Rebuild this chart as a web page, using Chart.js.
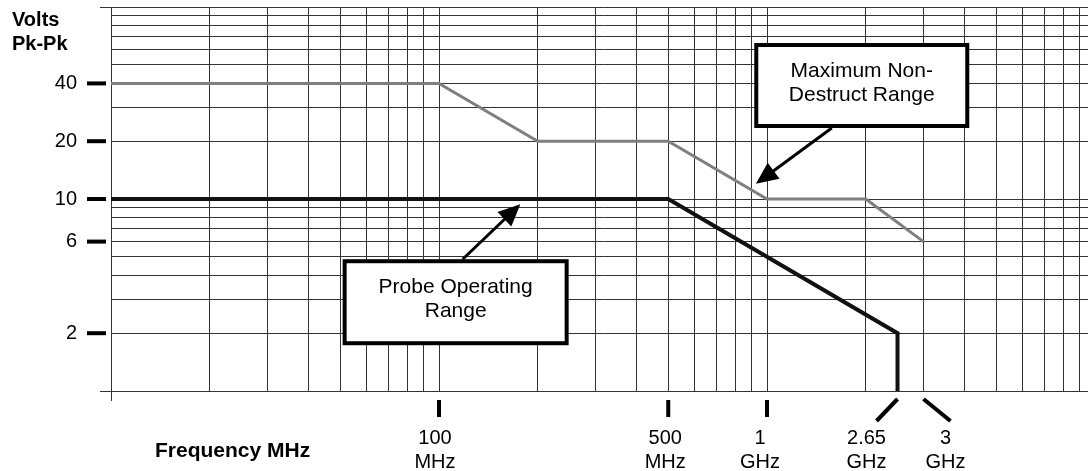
<!DOCTYPE html>
<html>
<head>
<meta charset="utf-8">
<script src="https://cdn.jsdelivr.net/npm/chart.js@4.4.1/dist/chart.umd.min.js"></script>
<style>
  html, body { margin: 0; padding: 0; background: #fff; overflow: hidden; }
  #wrap { width: 1100px; height: 471px; }
</style>
</head>
<body>
<div id="wrap"><canvas id="myChart" width="1100" height="471"></canvas></div>
<script>
// data
const maxFreq = [10, 100, 200, 500, 1000, 2000, 3000];
const maxVolts = [40, 40, 20, 20, 10, 10, 6];
const opFreq = [10, 500, 2500, 2500];
const opVolts = [10, 10, 2, 1];

const xTickValues = [100, 500, 1000, 2500, 3000];
const xTickLabels = [['100', 'MHz'], ['500', 'MHz'], ['1', 'GHz'], ['2.65', 'GHz'], ['3', 'GHz']];
const yTickValues = [40, 20, 10, 6, 2];
const yTickLabels = ['40', '20', '10', '6', '2'];

// log paper grid: 1..9 in every decade
const xGrid = [];
for (let d = 10; d < 10000; d *= 10) for (let k = 1; k < 10; k++) xGrid.push(k * d);
xGrid.push(10000);
const yGrid = [];
for (let d = 1; d < 100; d *= 10) for (let k = 1; k < 10; k++) yGrid.push(k * d);
yGrid.push(100);

// look of the x tick marks / labels
const xTickSlant = [0, 0, 0, -21, 27];
const xLabelShift = [-4, -3, -7, -31, 22];

// callout boxes, anchored in data space
const notes = [
  { text: ['Maximum Non-', 'Destruct Range'], x: 1945, y: 39, w: 211, h: 81, tipX: 925, tipY: 12, tailDx: -30, side: 1 },
  { text: ['Probe Operating', 'Range'], x: 112.4, y: 2.9, w: 222, h: 82, tipX: 177, tipY: 9.4, tailDx: 7, side: -1 }
];

const FONT = '"Liberation Sans", Arial, sans-serif';
const gridColor = '#333';

function toPoints(xs, ys) {
  return xs.map((v, i) => ({ x: v, y: ys[i] }));
}

function arrow(ctx, x0, y0, x1, y1) {
  const dx = x1 - x0, dy = y1 - y0;
  const len = Math.hypot(dx, dy);
  const ux = dx / len, uy = dy / len;
  const head = 22, half = 10;
  const bx = x1 - ux * head, by = y1 - uy * head;
  ctx.lineWidth = 3;
  ctx.beginPath();
  ctx.moveTo(x0, y0);
  ctx.lineTo(bx + ux * 2, by + uy * 2);
  ctx.stroke();
  ctx.beginPath();
  ctx.moveTo(x1, y1);
  ctx.lineTo(bx - uy * half, by + ux * half);
  ctx.lineTo(bx + uy * half, by - ux * half);
  ctx.closePath();
  ctx.fill();
}

const overlay = {
  id: 'overlay',
  afterDatasetsDraw(chart) {
    const { ctx, chartArea: a, scales: { x, y } } = chart;
    ctx.save();

    // little overhangs at the frame corners
    ctx.strokeStyle = gridColor;
    ctx.lineWidth = 1;
    const top = Math.floor(a.top) + 0.5, bot = Math.floor(a.bottom) + 0.5, lft = Math.floor(a.left) + 0.5;
    ctx.beginPath();
    ctx.moveTo(a.left - 11, top); ctx.lineTo(a.left, top);
    ctx.moveTo(a.left - 11, bot); ctx.lineTo(a.left, bot);
    ctx.moveTo(lft, a.bottom); ctx.lineTo(lft, a.bottom + 10);
    ctx.stroke();

    ctx.fillStyle = '#000';
    ctx.strokeStyle = '#000';

    // axis titles
    ctx.font = 'bold 20px ' + FONT;
    ctx.textAlign = 'left';
    ctx.textBaseline = 'alphabetic';
    ctx.fillText('Volts', 12, 26);
    ctx.fillText('Pk-Pk', 12, 50);
    ctx.font = 'bold 21px ' + FONT;
    ctx.fillText('Frequency MHz', 155, a.bottom + 66);

    // y ticks
    ctx.font = '20px ' + FONT;
    ctx.textAlign = 'right';
    ctx.textBaseline = 'middle';
    yTickValues.forEach((v, i) => {
      const py = y.getPixelForValue(v);
      ctx.fillRect(a.left - 24, py - 2, 19, 4);
      ctx.fillText(yTickLabels[i], a.left - 34, py);
    });

    // x ticks
    ctx.textAlign = 'center';
    ctx.textBaseline = 'alphabetic';
    xTickValues.forEach((v, i) => {
      const px = x.getPixelForValue(v);
      const s = xTickSlant[i];
      if (s === 0) {
        ctx.fillRect(px - 2, a.bottom + 9, 4, 17);
      } else {
        ctx.lineWidth = 4;
        ctx.beginPath();
        ctx.moveTo(px, a.bottom + 8);
        ctx.lineTo(px + s, a.bottom + 30);
        ctx.stroke();
      }
      const lx = px + xLabelShift[i];
      ctx.fillText(xTickLabels[i][0], lx, a.bottom + 53);
      ctx.fillText(xTickLabels[i][1], lx, a.bottom + 77);
    });

    // callouts
    notes.forEach(n => {
      const cx = x.getPixelForValue(n.x), cy = y.getPixelForValue(n.y);
      const l = cx - n.w / 2, t = cy - n.h / 2;
      ctx.fillStyle = '#fff';
      ctx.fillRect(l, t, n.w, n.h);
      ctx.lineWidth = 4;
      ctx.strokeStyle = '#000';
      ctx.strokeRect(l, t, n.w, n.h);
      ctx.fillStyle = '#000';
      ctx.font = '21px ' + FONT;
      ctx.textAlign = 'center';
      ctx.fillText(n.text[0], cx, t + 32);
      ctx.fillText(n.text[1], cx, t + 55.5);
      arrow(ctx, cx + n.tailDx, cy + n.side * (n.h / 2 + 2),
        x.getPixelForValue(n.tipX), y.getPixelForValue(n.tipY));
    });

    ctx.restore();
  }
};

new Chart(document.getElementById('myChart'), {
  type: 'line',
  data: {
    datasets: [{
      label: 'Maximum Non-Destruct Range',
      data: toPoints(maxFreq, maxVolts),
      borderColor: '#7f7f7f',
      borderWidth: 3,
      pointRadius: 0,
      fill: false,
      tension: 0
    }, {
      label: 'Probe Operating Range',
      data: toPoints(opFreq, opVolts),
      borderColor: '#111',
      borderWidth: 4,
      pointRadius: 0,
      fill: false,
      tension: 0
    }]
  },
  options: {
    responsive: false,
    animation: false,
    layout: { padding: { left: 111, right: 5, top: 7, bottom: 80 } },
    plugins: {
      legend: { display: false },
      tooltip: { enabled: false }
    },
    scales: {
      x: {
        type: 'logarithmic',
        min: 10,
        max: 10000,
        afterBuildTicks: s => { s.ticks = xGrid.map(v => ({ value: v })); },
        ticks: { display: false },
        grid: { color: gridColor, lineWidth: 1, drawTicks: false },
        border: { display: true, color: gridColor, width: 1 }
      },
      y: {
        type: 'logarithmic',
        min: 1,
        max: 100,
        afterBuildTicks: s => { s.ticks = yGrid.map(v => ({ value: v })); },
        ticks: { display: false },
        grid: { color: gridColor, lineWidth: 1, drawTicks: false },
        border: { display: true, color: gridColor, width: 1 }
      }
    }
  },
  plugins: [overlay]
});
</script>
</body>
</html>
